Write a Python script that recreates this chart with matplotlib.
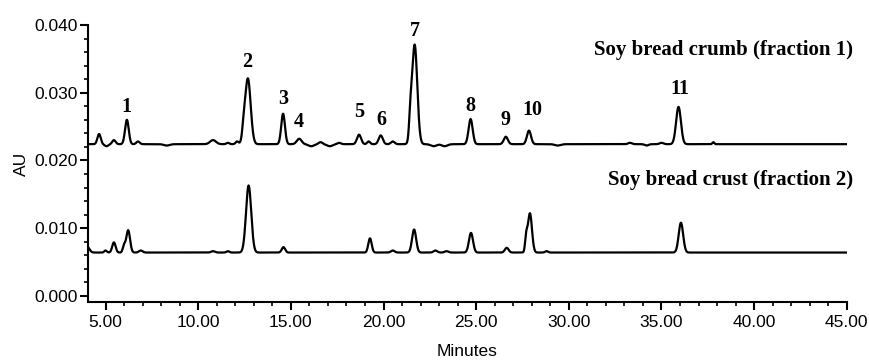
import numpy as np
import matplotlib
matplotlib.use("Agg")
import matplotlib.pyplot as plt
from matplotlib.ticker import MultipleLocator, FormatStrFormatter

# ---- data ----
# Soy bread crumb (fraction 1): baseline and peaks (retention time, height above baseline, width)
crumb_baseline = 0.0224
crumb_rt = [4.65, 5.05, 5.45, 6.15, 6.75, 8.3, 10.8, 11.6, 12.1, 12.45, 12.68,
            14.58, 15.45, 16.1, 16.6, 17.1, 17.6, 18.68, 19.2, 19.85, 20.5,
            21.45, 21.68, 22.7, 23.3, 24.7, 26.6, 27.85, 29.4, 33.3, 34.2, 35.0, 35.92, 37.8]
crumb_h = [0.0015, -0.0003, 0.0006, 0.0036, 0.0004, -0.0002, 0.0006, 0.0002, 0.0004, 0.0015, 0.0097,
           0.0045, 0.0008, -0.0003, 0.0003, -0.0003, 0.0002, 0.0014, 0.0004, 0.0013, 0.0004,
           0.0030, 0.0147, -0.0003, -0.0003, 0.0037, 0.0011, 0.0020, -0.0002, 0.0002, -0.0002, 0.0002, 0.0055, 0.0003]
crumb_w = [0.09, 0.10, 0.09, 0.10, 0.09, 0.15, 0.16, 0.08, 0.08, 0.08, 0.15,
           0.10, 0.13, 0.15, 0.10, 0.15, 0.10, 0.11, 0.08, 0.11, 0.10,
           0.07, 0.14, 0.15, 0.15, 0.11, 0.11, 0.11, 0.15, 0.10, 0.10, 0.10, 0.13, 0.05]

# Soy bread crust (fraction 2)
crust_baseline = 0.0064
crust_rt = [4.0, 5.0, 5.45, 6.0, 6.22, 6.9, 10.8, 11.6, 12.72, 14.6,
            19.27, 20.5, 21.65, 22.8, 23.4, 24.72, 26.65, 27.7, 27.9, 28.8, 36.05]
crust_h = [0.0009, 0.0003, 0.0015, 0.0010, 0.0033, 0.0003, 0.0002, 0.0002, 0.0099, 0.0008,
           0.0021, 0.0003, 0.0034, 0.0003, 0.0002, 0.0029, 0.0007, 0.0020, 0.0058,
           0.0002, 0.0044]
crust_w = [0.12, 0.07, 0.09, 0.07, 0.10, 0.10, 0.10, 0.08, 0.14, 0.09,
           0.09, 0.10, 0.11, 0.10, 0.10, 0.11, 0.10, 0.06, 0.11,
           0.08, 0.12]

# Peak labels
peak_labels = ["1", "2", "3", "4", "5", "6", "7", "8", "9", "10", "11"]
peak_label_x = [6.13, 12.66, 14.6, 15.45, 18.7, 19.9, 21.7, 24.7, 26.6, 28.05, 36.0]
peak_label_y = [0.0279, 0.0345, 0.0290, 0.0257, 0.0271, 0.0259, 0.0391, 0.0281, 0.0259, 0.0275, 0.0306]

series_titles = ["Soy bread crumb (fraction 1)", "Soy bread crust (fraction 2)"]
title_y = [0.0363, 0.0171]

x_ticks = [5, 10, 15, 20, 25, 30, 35, 40, 45]
y_ticks = [0.000, 0.010, 0.020, 0.030, 0.040]

t = np.linspace(4.05, 45.0, 6000)


def trace(base, rts, hs, ws):
    y = np.full_like(t, base)
    for r, h, w in zip(rts, hs, ws):
        y += h * np.exp(-0.5 * ((t - r) / w) ** 2)
    return y


fig = plt.figure(figsize=(8.7, 3.62), dpi=100)
ax = fig.add_axes([0.1011, 0.166, 0.8722, 0.765])

ax.plot(t, trace(crumb_baseline, crumb_rt, crumb_h, crumb_w), color="black", lw=1.6)
ax.plot(t, trace(crust_baseline, crust_rt, crust_h, crust_w), color="black", lw=1.6)

serif = ["Liberation Serif", "DejaVu Serif"]
for lab, x, y in zip(peak_labels, peak_label_x, peak_label_y):
    ax.text(x, y, lab, ha="center", va="center", fontsize=14.5, fontweight="bold", family=serif)

for s, y in zip(series_titles, title_y):
    ax.text(45.35, y, s, ha="right", va="center", fontsize=15, fontweight="bold", family=serif)

ax.set_xlim(4.05, 45.0)
ax.set_ylim(-0.00089, 0.040)
ax.set_xticks(x_ticks)
ax.set_yticks(y_ticks)
ax.xaxis.set_major_formatter(FormatStrFormatter("%.2f"))
ax.yaxis.set_major_formatter(FormatStrFormatter("%.3f"))
ax.xaxis.set_minor_locator(MultipleLocator(1))
ax.yaxis.set_minor_locator(MultipleLocator(0.002))

for sp in ["top", "right"]:
    ax.spines[sp].set_visible(False)
for sp in ["left", "bottom"]:
    ax.spines[sp].set_linewidth(1.5)

sans = ["Liberation Sans", "DejaVu Sans"]
ax.tick_params(axis="both", which="major", direction="out", length=6, width=1.5, labelsize=12.5)
ax.tick_params(axis="y", which="major", pad=1.5)
ax.tick_params(axis="both", which="minor", direction="out", length=3, width=1.2)
for lbl in ax.get_xticklabels() + ax.get_yticklabels():
    lbl.set_family(sans)

ax.set_xlabel("Minutes", fontsize=12.5, family=sans, labelpad=10)
ax.set_ylabel("AU", fontsize=12.5, family=sans, labelpad=4)

fig.savefig("out.png", dpi=100)
